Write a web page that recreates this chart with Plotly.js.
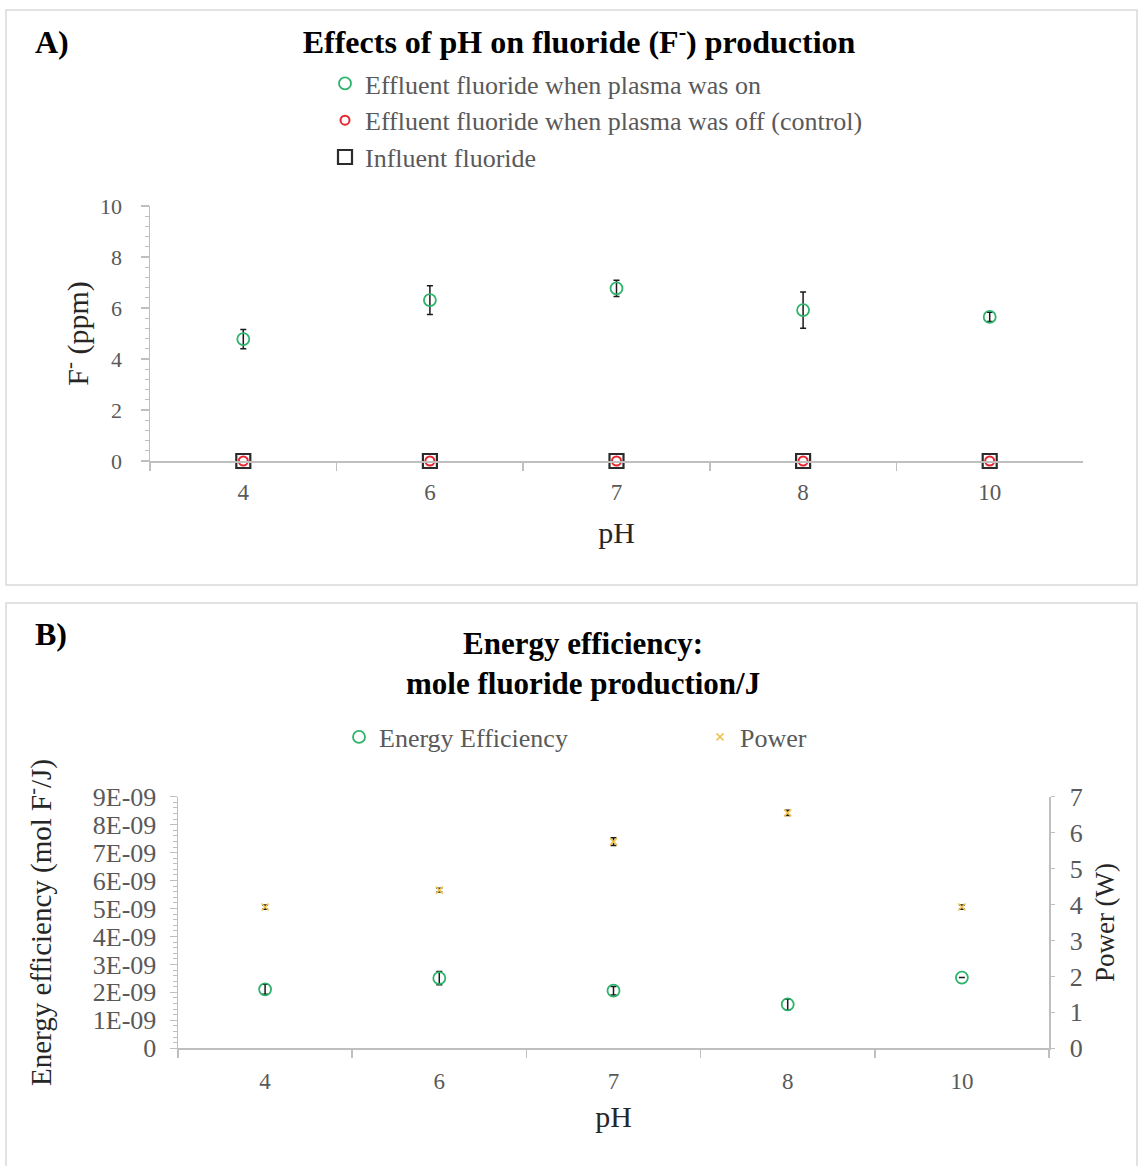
<!DOCTYPE html>
<html>
<head>
<meta charset="utf-8">
<script src="https://cdn.plot.ly/plotly-3.0.1.min.js"></script>
<style>html,body{margin:0;padding:0;background:#fff;}#chart{width:1138px;height:1166px;}</style>
</head>
<body>
<div id="chart"></div>
<script>
// ---- data ----
const categories = ['4', '6', '7', '8', '10'];            // pH
const fluorideOn = [4.78, 6.31, 6.77, 5.92, 5.65];        // ppm, plasma on
const fluorideOnErr = [0.38, 0.56, 0.32, 0.71, 0.18];
const fluorideOff = [0, 0, 0, 0, 0];                      // ppm, plasma off (control)
const fluorideInfluent = [0, 0, 0, 0, 0];                 // ppm, influent
const efficiency = [2.11e-9, 2.51e-9, 2.06e-9, 1.57e-9, 2.53e-9]; // mol F-/J
const efficiencyErr = [0.18e-9, 0.24e-9, 0.15e-9, 0.19e-9, 0];
const power = [3.93, 4.40, 5.75, 6.55, 3.93];             // W
const powerErr = [0.06, 0.05, 0.11, 0.07, 0.06];
const effTickVals = [0, 1e-9, 2e-9, 3e-9, 4e-9, 5e-9, 6e-9, 7e-9, 8e-9, 9e-9];
const effTickText = ['0', '1E-09', '2E-09', '3E-09', '4E-09', '5E-09', '6E-09', '7E-09', '8E-09', '9E-09'];

// ---- styling ----
const FONT = 'Liberation Serif, "Times New Roman", serif';
const AX = '#bfbfbf';
const LBL = '#595959';
const GREEN = '#2eb36a';
const RED = '#e8262f';
const GOLD = '#f0c24e';
const ERR = '#1a1a1a';

const catRange = [-0.5, categories.length - 0.5];
const boundaries = categories.map((c, i) => i - 0.5).concat([categories.length - 0.5]);
const centers = categories.map((c, i) => i);

const XA = [150 / 1138, 1083 / 1138];
const YA = [1 - 461 / 1166, 1 - 206 / 1166];
const XB = [178 / 1138, 1049 / 1138];
const YB = [1 - 1048.3 / 1166, 1 - 796.7 / 1166];

function errBar(arr) {
  return {type: 'data', array: arr, visible: true, color: ERR, thickness: 1.5, width: 3};
}

const traces = [
  {
    name: 'Influent fluoride', x: categories, y: fluorideInfluent,
    xaxis: 'x', yaxis: 'y', type: 'scatter', mode: 'markers', legend: 'legend',
    legendrank: 3, cliponaxis: false,
    marker: {symbol: 'square-open', size: 14, color: '#2b2b2b', line: {width: 2.2, color: '#2b2b2b'}}
  },
  {
    name: 'Effluent fluoride when plasma was off (control)', x: categories, y: fluorideOff,
    xaxis: 'x', yaxis: 'y', type: 'scatter', mode: 'markers', legend: 'legend',
    legendrank: 2, cliponaxis: false,
    marker: {symbol: 'circle-open', size: 9, color: RED, line: {width: 2, color: RED}}
  },
  {
    name: 'Effluent fluoride when plasma was on', x: categories, y: fluorideOn,
    xaxis: 'x', yaxis: 'y', type: 'scatter', mode: 'markers', legend: 'legend',
    legendrank: 1, cliponaxis: false,
    error_y: errBar(fluorideOnErr),
    marker: {symbol: 'circle-open', size: 12, color: GREEN, line: {width: 1.8, color: GREEN}}
  },
  {
    name: 'Energy Efficiency', x: categories, y: efficiency,
    xaxis: 'x2', yaxis: 'y2', type: 'scatter', mode: 'markers', legend: 'legend2',
    cliponaxis: false,
    error_y: errBar(efficiencyErr),
    marker: {symbol: 'circle-open', size: 12, color: GREEN, line: {width: 1.8, color: GREEN}}
  },
  {
    name: 'Power', x: categories, y: power,
    xaxis: 'x2', yaxis: 'y3', type: 'scatter', mode: 'markers', legend: 'legend2',
    cliponaxis: false,
    error_y: errBar(powerErr),
    marker: {symbol: 'x-thin', size: 7, color: GOLD, line: {width: 1.5, color: GOLD}}
  }
];

const tickFontX = {family: FONT, size: 23, color: LBL};
const titleFont = {family: FONT, size: 30, color: '#262626'};

const baseX = {
  type: 'category', range: catRange, showline: true, linecolor: AX, linewidth: 1.5,
  ticks: 'outside', tickson: 'boundaries', ticklen: 8, tickwidth: 1.5, tickcolor: AX,
  tickfont: tickFontX, showgrid: false, zeroline: false, ticklabelstandoff: 10,
  fixedrange: true
};
const overlayX = (over, anchor, vals, dir, len) => ({
  overlaying: over, anchor: anchor, range: catRange, tickmode: 'array', tickvals: vals,
  ticks: dir, ticklen: len, tickwidth: 1.5, tickcolor: AX, showticklabels: false,
  showline: false, showgrid: false, zeroline: false
});

const layout = {
  width: 1138, height: 1166,
  margin: {l: 0, r: 0, t: 0, b: 0},
  paper_bgcolor: '#ffffff', plot_bgcolor: 'rgba(0,0,0,0)',
  font: {family: FONT, color: LBL},
  title: {
    text: '<b>Effects of pH on fluoride (F<sup>-</sup>) production</b>',
    x: 579 / 1138, xanchor: 'center', xref: 'paper',
    y: 1 - 42 / 1166, yanchor: 'middle', yref: 'paper',
    font: {family: FONT, size: 32, color: '#000000'}
  },
  showlegend: true,
  legend: {
    x: 325 / 1138, xanchor: 'left', y: 1 - 60 / 1166, yanchor: 'top',
    orientation: 'v', traceorder: 'normal',
    font: {family: FONT, size: 26, color: LBL}, itemwidth: 30, bgcolor: 'rgba(0,0,0,0)'
  },
  legend2: {
    x: 339 / 1138, xanchor: 'left', y: 1 - 737 / 1166, yanchor: 'middle',
    orientation: 'h', entrywidth: 316, entrywidthmode: 'pixels',
    font: {family: FONT, size: 26, color: LBL}, itemwidth: 30, bgcolor: 'rgba(0,0,0,0)'
  },
  xaxis: Object.assign({}, baseX, {
    domain: XA, anchor: 'y',
    title: {text: 'pH', font: titleFont, standoff: 18}
  }),
  xaxis3: overlayX('x', 'y', boundaries, 'inside', 8),
  xaxis2: Object.assign({}, baseX, {
    domain: XB, anchor: 'y2', ticklabelstandoff: 12,
    title: {text: 'pH', font: titleFont, standoff: 12}
  }),
  xaxis4: overlayX('x2', 'y2', boundaries, 'inside', 7),
  xaxis5: overlayX('x2', 'y2', centers, 'outside', 5),
  yaxis: {
    domain: YA, anchor: 'x', range: [0, 10], dtick: 2, tick0: 0,
    showline: true, linecolor: AX, linewidth: 1.5,
    ticks: 'outside', ticklen: 8, tickwidth: 1.5, tickcolor: AX,
    minor: {dtick: 0.4, tick0: 0, ticks: 'outside', ticklen: 4, tickcolor: AX, tickwidth: 1},
    tickfont: {family: FONT, size: 22, color: LBL}, showgrid: false, zeroline: false, ticklabelstandoff: 14,
    title: {text: 'F<sup>-</sup> (ppm)', font: {family: FONT, size: 30, color: '#262626'}, standoff: 2}
  },
  yaxis4: {
    overlaying: 'y', anchor: 'x', range: [0, 10], dtick: 2, tick0: 0,
    ticks: 'inside', ticklen: 8, tickwidth: 1.5, tickcolor: AX,
    minor: {dtick: 0.4, tick0: 0, ticks: 'inside', ticklen: 4, tickcolor: AX, tickwidth: 1},
    showticklabels: false, showline: false, showgrid: false, zeroline: false
  },
  yaxis2: {
    domain: YB, anchor: 'x2', range: [0, 9e-9], tickmode: 'array',
    tickvals: effTickVals, ticktext: effTickText,
    showline: true, linecolor: AX, linewidth: 1.5,
    ticks: 'outside', ticklen: 7, tickwidth: 1.5, tickcolor: AX,
    minor: {dtick: 2e-10, tick0: 0, ticks: 'outside', ticklen: 4, tickcolor: AX, tickwidth: 1},
    tickfont: {family: FONT, size: 26, color: LBL}, showgrid: false, zeroline: false, ticklabelstandoff: 8,
    title: {text: 'Energy efficiency (mol F<sup>-</sup>/J)', font: {family: FONT, size: 29, color: '#262626'}, standoff: 32}
  },
  yaxis5: {
    overlaying: 'y2', anchor: 'x2', range: [0, 9e-9], tickmode: 'array', tickvals: effTickVals,
    ticks: 'inside', ticklen: 7, tickwidth: 1.5, tickcolor: AX,
    minor: {dtick: 2e-10, tick0: 0, ticks: 'inside', ticklen: 4, tickcolor: AX, tickwidth: 1},
    showticklabels: false, showline: false, showgrid: false, zeroline: false
  },
  yaxis3: {
    overlaying: 'y2', anchor: 'x2', side: 'right', range: [0, 7], dtick: 1, tick0: 0,
    showline: true, linecolor: AX, linewidth: 1.5,
    ticks: 'outside', ticklen: 4, tickwidth: 1.5, tickcolor: AX,
    tickfont: {family: FONT, size: 26, color: LBL}, showgrid: false, zeroline: false, ticklabelstandoff: 10,
    title: {text: 'Power (W)', font: {family: FONT, size: 27, color: '#262626'}, standoff: 13}
  },
  shapes: [
    {type: 'rect', xref: 'paper', yref: 'paper', x0: 6 / 1138, x1: 1137 / 1138,
     y0: 1 - 585 / 1166, y1: 1 - 10 / 1166, line: {color: '#d9d9d9', width: 1.5}, fillcolor: 'rgba(0,0,0,0)', layer: 'below'},
    {type: 'rect', xref: 'paper', yref: 'paper', x0: 6 / 1138, x1: 1137 / 1138,
     y0: -0.01, y1: 1 - 603 / 1166, line: {color: '#d9d9d9', width: 1.5}, fillcolor: 'rgba(0,0,0,0)', layer: 'below'}
  ],
  annotations: [
    {text: '<b>A)</b>', xref: 'paper', yref: 'paper', x: 33 / 1138, xanchor: 'left',
     y: 1 - 42 / 1166, yanchor: 'middle', showarrow: false, font: {family: FONT, size: 32, color: '#000'}},
    {text: '<b>B)</b>', xref: 'paper', yref: 'paper', x: 33 / 1138, xanchor: 'left',
     y: 1 - 634 / 1166, yanchor: 'middle', showarrow: false, font: {family: FONT, size: 32, color: '#000'}},
    {text: '<b>Energy efficiency:<br>mole fluoride production/J</b>', xref: 'paper', yref: 'paper',
     x: 583 / 1138, xanchor: 'center', y: 1 - 663 / 1166, yanchor: 'middle', showarrow: false,
     font: {family: FONT, size: 31, color: '#000'}}
  ]
};

Plotly.newPlot('chart', traces, layout, {displayModeBar: false, staticPlot: true});
</script>
</body>
</html>
